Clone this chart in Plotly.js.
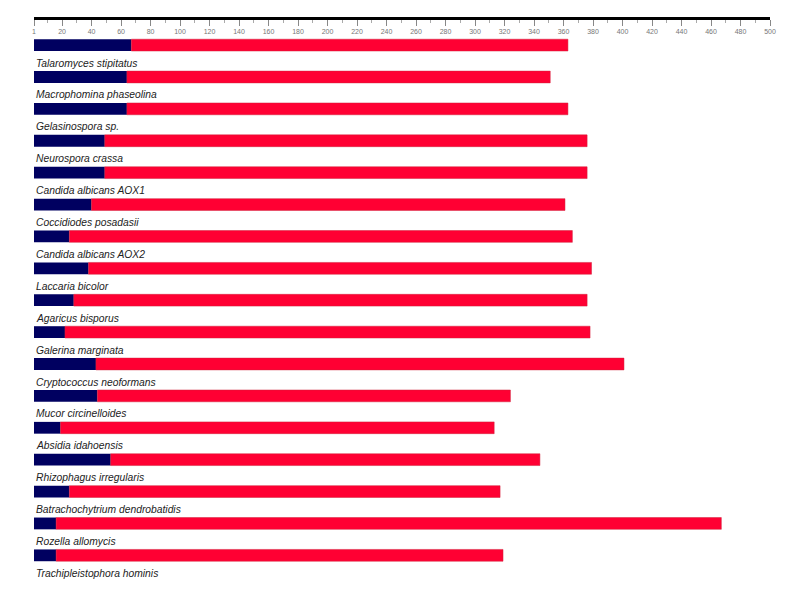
<!DOCTYPE html>
<html>
<head>
<meta charset="utf-8">
<script src="https://cdn.plot.ly/plotly-3.0.1.min.js"></script>
<style>
  body { margin: 0; background: #fff; }
  #plot { width: 800px; height: 600px; }
</style>
</head>
<body>
<div id="plot"></div>
<script>
// species, top to bottom
let species = [
    "Talaromyces stipitatus",
    "Macrophomina phaseolina",
    "Gelasinospora sp.",
    "Neurospora crassa",
    "Candida albicans AOX1",
    "Coccidiodes posadasii",
    "Candida albicans AOX2",
    "Laccaria bicolor",
    "Agaricus bisporus",
    "Galerina marginata",
    "Cryptococcus neoformans",
    "Mucor circinelloides",
    "Absidia idahoensis",
    "Rhizophagus irregularis",
    "Batrachochytrium dendrobatidis",
    "Rozella allomycis",
    "Trachipleistophora hominis"
];

// end of the navy (N-terminal) segment
let navyEnd = [67, 64, 64, 49, 49, 40, 25, 38, 28, 22, 43, 44, 19, 53, 25, 16, 16];

// end of the red segment (full length)
let redEnd = [363, 351, 363, 376, 376, 361, 366, 379, 376, 378, 401, 324, 313, 344, 317, 467, 319];

let axisTicks = [1, 20, 40, 60, 80, 100, 120, 140, 160, 180, 200, 220, 240, 260, 280,
    300, 320, 340, 360, 380, 400, 420, 440, 460, 480, 500];

let navyTrace = {
    y: species,
    x: navyEnd.map(v => v - 1),
    base: species.map(() => 1),
    orientation: "h",
    type: "bar",
    width: 0.37,
    marker: { color: "#000060" },
    hoverinfo: "skip"
};

let redTrace = {
    y: species,
    x: redEnd.map((v, i) => v - navyEnd[i]),
    base: navyEnd,
    orientation: "h",
    type: "bar",
    width: 0.37,
    marker: { color: "#ff0033", line: { color: "#d0203a", width: 0.5 } },
    hoverinfo: "skip"
};

// species names sit under each bar
let labels = species.map(name => ({
    text: "<i>" + name + "</i>",
    xref: "paper",
    x: 0,
    xanchor: "left",
    xshift: 0,
    y: name,
    yref: "y",
    yshift: -18,
    showarrow: false,
    font: { family: "Liberation Sans, Arial, sans-serif", size: 10.3, color: "#222" }
}));

let layout = {
    width: 800,
    height: 600,
    showlegend: false,
    barmode: "overlay",
    paper_bgcolor: "#fff",
    plot_bgcolor: "#fff",
    margin: { l: 34, r: 30, t: 18, b: 30, pad: 0 },
    // axis drawn along the top edge, ticks and labels hanging below it
    xaxis: {
        anchor: "free",
        position: 1,
        side: "bottom",
        range: [1, 500],
        tickvals: axisTicks,
        ticktext: axisTicks.map(String),
        ticks: "outside",
        ticklen: 6,
        tickwidth: 1,
        tickcolor: "#888",
        tickfont: { family: "Liberation Sans, Arial, sans-serif", size: 7, color: "#777" },
        showline: true,
        linecolor: "#000",
        linewidth: 3,
        showgrid: false,
        zeroline: false,
        minor: { dtick: 10, tick0: 0, ticks: "outside", ticklen: 3, tickcolor: "#aaa", showgrid: false }
    },
    yaxis: {
        type: "category",
        range: [16.46, -0.85],
        showticklabels: false,
        ticks: "",
        showgrid: false,
        zeroline: false,
        showline: false
    },
    annotations: labels
};

Plotly.newPlot("plot", [navyTrace, redTrace], layout, { staticPlot: true });
</script>
</body>
</html>
